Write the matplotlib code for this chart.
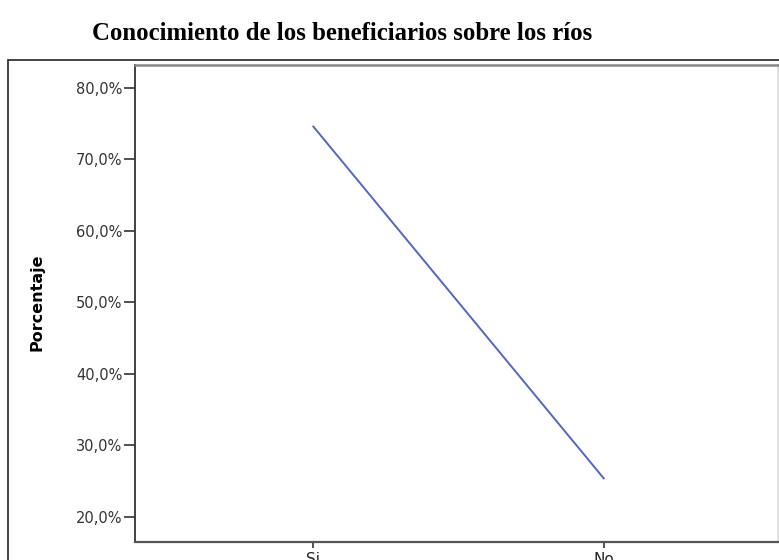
import matplotlib.pyplot as plt
from matplotlib.patches import Rectangle
import matplotlib.ticker as mticker

# Data
categories = ["Si", "No"]
percent = [74.6, 25.4]
yticks = [20, 30, 40, 50, 60, 70, 80]

W, H = 779, 560
fig = plt.figure(figsize=(W / 100, H / 100), dpi=100)

# plot area in pixels: left 135, top 65, right 778, bottom 542
ax = fig.add_axes([135 / W, 1 - 542 / H, (778 - 135) / W, (542 - 65) / H])
ax.plot(range(len(categories)), percent, color="#5166c9", lw=1.4)

ax.set_xlim(-0.614, 1.6)
ax.set_ylim(16.5, 83.2)
ax.set_xticks(range(len(categories)))
ax.set_xticklabels(categories)
ax.set_yticks(yticks)
ax.yaxis.set_major_formatter(mticker.FuncFormatter(lambda v, p: f"{v:.1f}%".replace(".", ",")))

ax.tick_params(axis="both", length=8, width=1.2, color="#333333",
               labelsize=10.5, labelcolor="#333333", pad=1)
ax.tick_params(axis="x", length=4, pad=3, labelsize=11, labelcolor="#222222")

for side, col, lw in [("left", "#333333", 1.3), ("bottom", "#555555", 1.6),
                      ("top", "#888888", 1.8), ("right", "#dddddd", 1.2)]:
    ax.spines[side].set_color(col)
    ax.spines[side].set_linewidth(lw)

ax.set_ylabel("Porcentaje", fontsize=11.5, fontweight="bold",
              family=["Liberation Sans Narrow", "DejaVu Sans"])
ax.yaxis.set_label_coords((44 - 135) / (778 - 135), (542 - 302) / (542 - 65))

# outer frame
fig.patches.append(Rectangle((8 / W, -0.1), 1.2, 1 - 59.5 / H + 0.1,
                             transform=fig.transFigure, fill=False,
                             edgecolor="#333333", lw=1.3))

fig.text(342 / W, 1 - 34 / H, "Conocimiento de los beneficiarios sobre los ríos",
         ha="center", va="center", fontsize=17.8, fontweight="bold",
         family="Liberation Serif")

fig.savefig("out.png", dpi=100)
